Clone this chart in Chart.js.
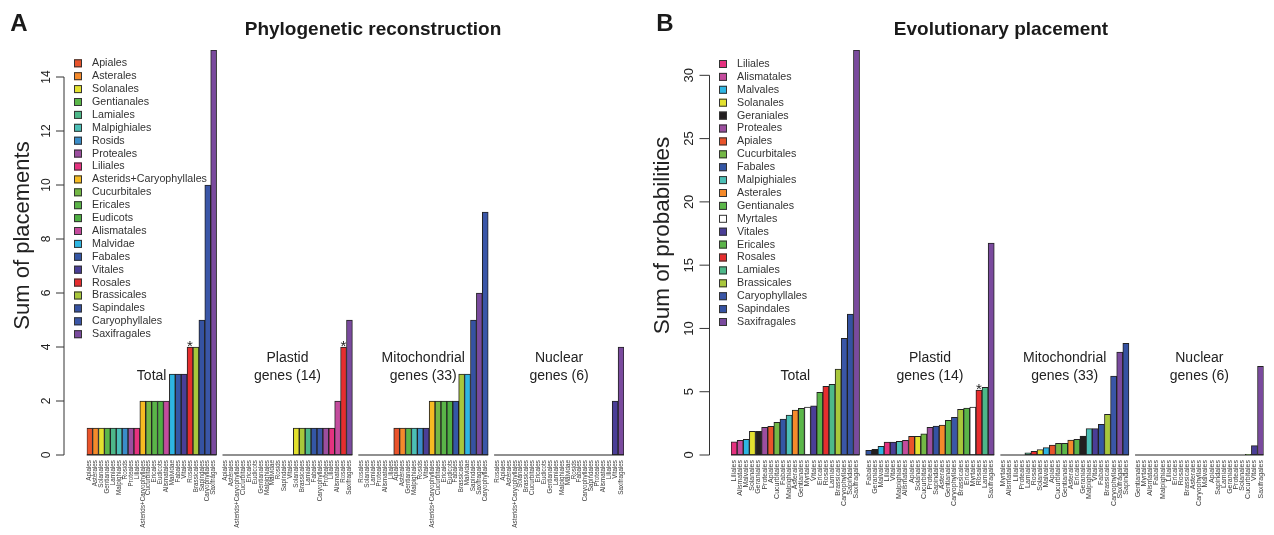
<!DOCTYPE html>
<html>
<head>
<meta charset="utf-8">
<script src="https://cdn.jsdelivr.net/npm/chart.js@4.4.1/dist/chart.umd.min.js"></script>
<style>
  html, body { margin: 0; padding: 0; background: #fff; }
  #wrap { position: relative; width: 1274px; height: 535px; overflow: hidden; }
  canvas { position: absolute; top: 0; }
  #chartA { left: 0; }
  #chartB { left: 637px; }
</style>
</head>
<body>
<div id="wrap">
  <canvas id="chartA" width="637" height="535"></canvas>
  <canvas id="chartB" width="637" height="535"></canvas>
</div>
<script>
// --- PANEL A: phylogenetic reconstruction (sum of placements) ---
const totalA_labels = ['Apiales', 'Asterales', 'Solanales', 'Gentianales', 'Lamiales', 'Malpighiales', 'Rosids', 'Proteales', 'Liliales',
  'Asterids+Caryophyllales', 'Cucurbitales', 'Ericales', 'Eudicots', 'Alismatales', 'Malvidae', 'Fabales', 'Vitales',
  'Rosales', 'Brassicales', 'Sapindales', 'Caryophyllales', 'Saxifragales'];
const totalA_values = [1, 1, 1, 1, 1, 1, 1, 1, 1, 2, 2, 2, 2, 2, 3, 3, 3, 4, 4, 5, 10, 15];

const plastidA_labels = ['Apiales', 'Asterales', 'Asterids+Caryophyllales', 'Cucurbitales', 'Ericales', 'Eudicots', 'Gentianales',
  'Malpighiales', 'Malvidae', 'Rosids', 'Sapindales', 'Vitales', 'Solanales', 'Brassicales', 'Lamiales', 'Fabales',
  'Caryophyllales', 'Proteales', 'Liliales', 'Alismatales', 'Rosales', 'Saxifragales'];
const plastidA_values = [0, 0, 0, 0, 0, 0, 0, 0, 0, 0, 0, 0, 1, 1, 1, 1, 1, 1, 1, 2, 4, 5];

const mitoA_labels = ['Rosales', 'Solanales', 'Lamiales', 'Proteales', 'Alismatales', 'Liliales', 'Apiales', 'Asterales',
  'Gentianales', 'Malpighiales', 'Rosids', 'Vitales', 'Asterids+Caryophyllales', 'Cucurbitales', 'Ericales', 'Eudicots',
  'Fabales', 'Brassicales', 'Malvidae', 'Sapindales', 'Saxifragales', 'Caryophyllales'];
const mitoA_values = [0, 0, 0, 0, 0, 0, 1, 1, 1, 1, 1, 1, 2, 2, 2, 2, 2, 3, 3, 5, 6, 9];

const nuclearA_labels = ['Rosales', 'Apiales', 'Asterales', 'Asterids+Caryophyllales', 'Solanales', 'Brassicales', 'Cucurbitales',
  'Ericales', 'Eudicots', 'Gentianales', 'Lamiales', 'Malpighiales', 'Malvidae', 'Rosids', 'Fabales', 'Caryophyllales',
  'Sapindales', 'Proteales', 'Alismatales', 'Liliales', 'Vitales', 'Saxifragales'];
const nuclearA_values = [0, 0, 0, 0, 0, 0, 0, 0, 0, 0, 0, 0, 0, 0, 0, 0, 0, 0, 0, 0, 2, 4];

const yTicksA = [0, 2, 4, 6, 8, 10, 12, 14];

// --- PANEL B: evolutionary placement (sum of probabilities) ---
const totalB_labels = ['Liliales', 'Alismatales', 'Malvales', 'Solanales', 'Geraniales', 'Proteales', 'Apiales', 'Cucurbitales',
  'Fabales', 'Malpighiales', 'Asterales', 'Gentianales', 'Myrtales', 'Vitales', 'Ericales', 'Rosales', 'Lamiales',
  'Brassicales', 'Caryophyllales', 'Sapindales', 'Saxifragales'];
const totalB_values = [1.05, 1.16, 1.24, 1.87, 1.87, 2.18, 2.26, 2.58, 2.84, 3.16, 3.55, 3.68, 3.79, 3.89, 4.95, 5.42, 5.58,
  6.79, 9.21, 11.13, 32.0];

const plastidB_labels = ['Fabales', 'Geraniales', 'Malvales', 'Liliales', 'Vitales', 'Malpighiales', 'Alismatales', 'Apiales',
  'Solanales', 'Cucurbitales', 'Proteales', 'Sapindales', 'Asterales', 'Gentianales', 'Caryophyllales', 'Brassicales',
  'Ericales', 'Myrtales', 'Rosales', 'Lamiales', 'Saxifragales'];
const plastidB_values = [0.37, 0.45, 0.68, 1.03, 1.03, 1.08, 1.16, 1.47, 1.47, 1.68, 2.18, 2.29, 2.37, 2.74, 2.97, 3.61,
  3.71, 3.79, 5.13, 5.34, 16.75];

const mitoB_labels = ['Myrtales', 'Alismatales', 'Liliales', 'Proteales', 'Lamiales', 'Rosales', 'Solanales', 'Malvales',
  'Apiales', 'Cucurbitales', 'Gentianales', 'Asterales', 'Ericales', 'Geraniales', 'Malpighiales', 'Vitales', 'Fabales',
  'Brassicales', 'Caryophyllales', 'Saxifragales', 'Sapindales'];
const mitoB_values = [0, 0, 0, 0, 0.18, 0.29, 0.42, 0.58, 0.79, 0.92, 0.92, 1.18, 1.24, 1.5, 2.08, 2.08, 2.42, 3.21,
  6.24, 8.13, 8.82];

const nuclearB_labels = ['Gentianales', 'Myrtales', 'Alismatales', 'Fabales', 'Malpighiales', 'Liliales', 'Ericales', 'Rosales',
  'Brassicales', 'Asterales', 'Caryophyllales', 'Malvales', 'Apiales', 'Sapindales', 'Lamiales', 'Geraniales', 'Proteales',
  'Solanales', 'Cucurbitales', 'Vitales', 'Saxifragales'];
const nuclearB_values = [0, 0, 0, 0, 0, 0, 0, 0, 0, 0, 0, 0, 0, 0, 0, 0, 0, 0, 0.05, 0.74, 7.0];

const yTicksB = [0, 5, 10, 15, 20, 25, 30];

const groupCaptions = [['Total'], ['Plastid', 'genes (14)'], ['Mitochondrial', 'genes (33)'], ['Nuclear', 'genes (6)']];

// one colour per taxon, shared by both panels
const taxonColors = {
  'Apiales': '#E9532B', 'Asterales': '#F58A2B', 'Solanales': '#E3E12F', 'Gentianales': '#5BB749',
  'Lamiales': '#4DB889', 'Malpighiales': '#4BBFB6', 'Rosids': '#3A8DC9', 'Proteales': '#9C4E9F',
  'Liliales': '#E5327F', 'Asterids+Caryophyllales': '#F6BB22', 'Cucurbitales': '#73B845', 'Ericales': '#5AB448',
  'Eudicots': '#4EAF42', 'Alismatales': '#C44B9D', 'Malvidae': '#2EB6E3', 'Fabales': '#3456A5',
  'Vitales': '#4A3E97', 'Rosales': '#E62D2E', 'Brassicales': '#A8C73B', 'Sapindales': '#3552A2',
  'Caryophyllales': '#3A56A7', 'Saxifragales': '#7A4A9E', 'Malvales': '#2EB6E3', 'Geraniales': '#231F20',
  'Myrtales': '#FFFFFF'
};

const FONT = '"Liberation Sans", Arial, Helvetica, sans-serif';

function buildPanel(canvasId, groups, cfg) {
  const labels = [];
  const values = [];
  const colors = [];
  const ranges = [];

  groups.forEach((g, gi) => {
    const start = labels.length;
    g.labels.forEach((name, i) => {
      labels.push(name);
      values.push(g.values[i]);
      colors.push(taxonColors[name]);
    });
    ranges.push({ start: start, end: labels.length - 1, caption: groupCaptions[gi], star: g.star, names: g.labels });
    // empty slot between groups
    if (gi < groups.length - 1) {
      labels.push('');
      values.push(null);
      colors.push('#ffffff');
    }
  });

  const decorations = {
    id: 'decorations',
    afterDatasetsDraw(chart) {
      const ctx = chart.ctx;
      const xs = chart.scales.x;
      const ys = chart.scales.y;
      const slot = xs.getPixelForValue(1) - xs.getPixelForValue(0);
      const y0 = ys.getPixelForValue(0);

      ctx.save();
      // baseline under each group (zero-height bars)
      ctx.strokeStyle = '#222';
      ctx.lineWidth = 1.2;
      ranges.forEach((r) => {
        const left = xs.getPixelForValue(r.start) - slot / 2;
        const right = xs.getPixelForValue(r.end) + slot / 2;
        ctx.beginPath();
        ctx.moveTo(left, y0);
        ctx.lineTo(right, y0);
        ctx.stroke();

        // group caption
        const cx = (left + right) / 2;
        ctx.fillStyle = '#222';
        ctx.font = '14px ' + FONT;
        ctx.textAlign = 'center';
        ctx.textBaseline = 'middle';
        r.caption.forEach((txt, li) => {
          ctx.fillText(txt, cx, y0 - 79 - (r.caption.length - 1 - li) * 18);
        });

        // asterisk above the marked bar
        if (r.star) {
          const idx = r.start + r.names.indexOf(r.star);
          ctx.font = '15px ' + FONT;
          ctx.textBaseline = 'alphabetic';
          ctx.fillText('*', xs.getPixelForValue(idx), ys.getPixelForValue(values[idx]) + 4);
        }
      });

      // y axis (offset from the bars, R style)
      const ax = cfg.axisX;
      const ticks = cfg.yTicks;
      ctx.strokeStyle = '#333';
      ctx.lineWidth = 1;
      ctx.beginPath();
      ctx.moveTo(ax, ys.getPixelForValue(ticks[0]));
      ctx.lineTo(ax, ys.getPixelForValue(ticks[ticks.length - 1]));
      ctx.stroke();
      ctx.fillStyle = '#222';
      ctx.font = cfg.tickFont + 'px ' + FONT;
      ctx.textAlign = 'center';
      ctx.textBaseline = 'alphabetic';
      ticks.forEach((t) => {
        const py = ys.getPixelForValue(t);
        ctx.beginPath();
        ctx.moveTo(ax, py);
        ctx.lineTo(ax - cfg.tickLen, py);
        ctx.stroke();
        ctx.save();
        ctx.translate(ax - cfg.tickLabelGap, py);
        ctx.rotate(-Math.PI / 2);
        ctx.fillText(String(t), 0, 0);
        ctx.restore();
      });

      // y title
      ctx.save();
      ctx.font = cfg.yTitleFont + 'px ' + FONT;
      ctx.translate(cfg.yTitleX, (ys.top + ys.bottom) / 2 - 17);
      ctx.rotate(-Math.PI / 2);
      ctx.fillText(cfg.yTitle, 0, 0);
      ctx.restore();

      // legend
      ctx.font = '10.7px ' + FONT;
      ctx.textAlign = 'left';
      ctx.textBaseline = 'middle';
      cfg.legend.forEach((name, i) => {
        const ly = cfg.legendY + i * 12.9;
        ctx.fillStyle = taxonColors[name];
        ctx.fillRect(cfg.legendX, ly - 4, 8, 8);
        ctx.strokeStyle = '#333';
        ctx.strokeRect(cfg.legendX + 0.5, ly - 3.5, 7, 7);
        ctx.fillStyle = '#333';
        ctx.fillText(name, cfg.legendX + 18, ly);
      });

      // titles
      ctx.fillStyle = '#1a1a1a';
      ctx.textAlign = 'center';
      ctx.font = 'bold 19px ' + FONT;
      ctx.fillText(cfg.title, cfg.titleX, 30);
      ctx.font = 'bold 24px ' + FONT;
      ctx.fillText(cfg.letter, cfg.letterX, 24);
      ctx.restore();
    }
  };

  return new Chart(document.getElementById(canvasId), {
    type: 'bar',
    data: {
      labels: labels,
      datasets: [{
        data: values,
        backgroundColor: colors,
        borderColor: '#222',
        borderWidth: 1,
        borderSkipped: false,
        categoryPercentage: 1,
        barPercentage: 1
      }]
    },
    options: {
      responsive: false,
      animation: false,
      devicePixelRatio: 1,
      layout: { padding: { left: cfg.padLeft, right: cfg.padRight, top: 50, bottom: 0 } },
      plugins: { legend: { display: false }, tooltip: { enabled: false } },
      scales: {
        x: {
          grid: { display: false, drawTicks: false },
          border: { display: false },
          ticks: {
            autoSkip: false,
            minRotation: 90,
            maxRotation: 90,
            padding: 5,
            color: '#3a3a3a',
            font: { size: cfg.xFont, family: FONT }
          },
          afterFit(scale) { scale.height = 80; }
        },
        y: {
          display: false,
          min: 0,
          max: cfg.yMax
        }
      }
    },
    plugins: [decorations]
  });
}

buildPanel('chartA', [
  { labels: totalA_labels, values: totalA_values, star: 'Rosales' },
  { labels: plastidA_labels, values: plastidA_values, star: 'Rosales' },
  { labels: mitoA_labels, values: mitoA_values },
  { labels: nuclearA_labels, values: nuclearA_values }
], {
  yMax: 15, yTicks: yTicksA, yTitle: 'Sum of placements', yTitleFont: 22, padLeft: 86.7, padRight: 13,
  axisX: 64, tickLen: 8, tickLabelGap: 14, tickFont: 12, xFont: 6.3, yTitleX: 28.5,
  legend: totalA_labels, legendX: 74, legendY: 63.3,
  title: 'Phylogenetic reconstruction', titleX: 373, letter: 'A', letterX: 19
});

buildPanel('chartB', [
  { labels: totalB_labels, values: totalB_values },
  { labels: plastidB_labels, values: plastidB_values, star: 'Rosales' },
  { labels: mitoB_labels, values: mitoB_values },
  { labels: nuclearB_labels, values: nuclearB_values }
], {
  yMax: 32, yTicks: yTicksB, yTitle: 'Sum of probabilities', yTitleFont: 22.5, padLeft: 94, padRight: 5,
  axisX: 72.5, tickLen: 10, tickLabelGap: 16.5, tickFont: 13, xFont: 7, yTitleX: 32,
  legend: totalB_labels, legendX: 82, legendY: 64,
  title: 'Evolutionary placement', titleX: 364, letter: 'B', letterX: 28
});
</script>
</body>
</html>
